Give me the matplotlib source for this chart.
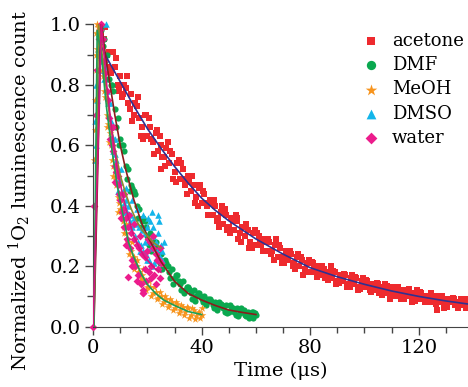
import matplotlib
matplotlib.use('Agg')
import matplotlib.pyplot as plt
from matplotlib.ticker import MultipleLocator

plt.rcParams['font.family'] = 'DejaVu Serif'
plt.rcParams['mathtext.fontset'] = 'dejavuserif'

# ---- scatter data ----
acetone_t = [3, 4, 5, 6, 7, 8, 9, 10, 11, 12, 13, 14, 15, 16, 17, 18, 19, 20, 21, 22, 23, 24, 25,
             26, 27, 28, 29, 30, 31, 32, 33, 34, 35, 36, 37, 38, 39, 40, 41, 42, 43, 44, 45, 46,
             47, 48, 49, 50, 51, 52, 53, 54, 55, 56, 57, 58, 59, 60, 61, 62, 63, 64, 65, 66, 67,
             68, 69, 70, 71, 72, 73, 74, 75, 76, 77, 78, 79, 80, 81, 82, 83, 84, 85, 86, 87, 88,
             89, 90, 91, 92, 93, 94, 95, 96, 97, 98, 99, 100, 101, 102, 103, 104, 105, 106, 107,
             108, 109, 110, 111, 112, 113, 114, 115, 116, 117, 118, 119, 120, 121, 122, 123, 124,
             125, 126, 127, 128, 129, 130, 131, 132, 133, 134, 135, 136, 137, 138,
             3.5, 5.5, 7.5, 9.5, 11.5, 13.5, 15.5, 17.5, 19.5, 21.5, 23.5, 25.5, 27.5, 29.5, 31.5,
             33.5, 35.5, 37.5, 39.5, 41.5, 43.5, 45.5, 47.5, 49.5, 51.5, 53.5, 55.5, 57.5, 59.5,
             61.5, 63.5, 65.5, 67.5, 69.5, 71.5, 73.5, 75.5, 77.5, 79.5, 81.5, 83.5, 85.5, 87.5,
             89.5, 91.5, 93.5, 95.5, 97.5, 99.5, 101.5, 103.5, 105.5, 107.5, 109.5, 111.5, 113.5,
             115.5, 117.5, 119.5, 121.5, 123.5, 125.5, 127.5, 129.5, 131.5, 133.5, 135.5, 137.5,
             4.5, 6.5, 8.5, 10.5, 12.5, 14.5, 16.5, 18.5, 20.5, 22.5, 24.5, 26.5, 28.5, 30.5, 32.5,
             34.5, 36.5, 38.5, 40.5, 42.5, 44.5, 46.5, 48.5, 50.5, 52.5, 54.5, 56.5, 58.5, 60.5,
             62.5, 64.5, 66.5, 68.5, 70.5, 72.5, 74.5, 76.5, 78.5, 80.5, 82.5, 84.5, 86.5, 88.5,
             90.5, 92.5, 94.5, 96.5, 98.5, 100.5, 102.5, 104.5, 106.5, 108.5, 110.5, 112.5, 114.5,
             116.5, 118.5, 120.5, 122.5, 124.5, 126.5, 128.5, 130.5, 132.5, 134.5, 136.5, 137.8,
             53, 126.7, 25]
acetone_y = [0.97, 0.95, 0.90, 0.91, 0.85, 0.86, 0.80, 0.83, 0.77, 0.79, 0.74, 0.77, 0.70, 0.73,
             0.69, 0.66, 0.70, 0.63, 0.66, 0.61, 0.64, 0.58, 0.60, 0.56, 0.59, 0.54, 0.57, 0.51,
             0.54, 0.49, 0.52, 0.47, 0.50, 0.45, 0.47, 0.43, 0.46, 0.41, 0.44, 0.40, 0.42, 0.37,
             0.40, 0.36, 0.38, 0.34, 0.37, 0.33, 0.36, 0.32, 0.35, 0.31, 0.33, 0.30, 0.32, 0.28,
             0.31, 0.27, 0.30, 0.27, 0.29, 0.25, 0.28, 0.25, 0.27, 0.23, 0.26, 0.23, 0.25, 0.22,
             0.24, 0.21, 0.23, 0.20, 0.22, 0.19, 0.21, 0.18, 0.21, 0.18, 0.20, 0.17, 0.19, 0.17,
             0.18, 0.16, 0.18, 0.15, 0.17, 0.15, 0.17, 0.14, 0.16, 0.14, 0.16, 0.13, 0.15, 0.13,
             0.15, 0.12, 0.14, 0.12, 0.14, 0.12, 0.13, 0.11, 0.13, 0.11, 0.13, 0.10, 0.12, 0.10,
             0.12, 0.10, 0.11, 0.09, 0.11, 0.09, 0.11, 0.09, 0.10, 0.08, 0.10, 0.08, 0.10, 0.08,
             0.09, 0.07, 0.09, 0.08, 0.09, 0.07, 0.08, 0.07, 0.09, 0.07,
             0.99, 0.86, 0.91, 0.78, 0.80, 0.72, 0.74, 0.63, 0.70, 0.62, 0.65, 0.56, 0.61, 0.49,
             0.55, 0.49, 0.48, 0.41, 0.47, 0.41, 0.41, 0.35, 0.40, 0.32, 0.35, 0.29, 0.33, 0.26,
             0.32, 0.28, 0.28, 0.24, 0.29, 0.21, 0.24, 0.20, 0.24, 0.17, 0.22, 0.19, 0.19, 0.16,
             0.20, 0.14, 0.17, 0.13, 0.17, 0.12, 0.16, 0.14, 0.13, 0.11, 0.14, 0.09, 0.12, 0.09,
             0.12, 0.08, 0.12, 0.10, 0.09, 0.08, 0.10, 0.06, 0.09, 0.07, 0.09, 0.06,
             0.99, 0.84, 0.89, 0.76, 0.83, 0.68, 0.76, 0.62, 0.69, 0.57, 0.63, 0.53, 0.58, 0.48,
             0.54, 0.44, 0.50, 0.40, 0.45, 0.37, 0.42, 0.33, 0.39, 0.31, 0.37, 0.28, 0.34, 0.26,
             0.31, 0.25, 0.29, 0.22, 0.27, 0.21, 0.25, 0.19, 0.23, 0.18, 0.215, 0.165, 0.20, 0.155,
             0.185, 0.145, 0.175, 0.13, 0.165, 0.125, 0.155, 0.115, 0.145, 0.105, 0.135, 0.10,
             0.13, 0.09, 0.125, 0.085, 0.115, 0.08, 0.11, 0.075, 0.10, 0.065, 0.095, 0.06, 0.09,
             0.065,
             0.36, 0.055, 0.52]

dmf_t = [2, 3, 4, 5, 6, 7, 8, 9, 10, 11, 12, 13, 14, 15, 16, 17, 18, 19, 20, 21, 22, 23, 24, 25,
         26, 27, 28, 29, 30, 31, 32, 33, 34, 35, 36, 37, 38, 39, 40, 41, 42, 43, 44, 45, 46, 47,
         48, 49, 50, 51, 52, 53, 54, 55, 56, 57, 58, 59, 60,
         2.5, 4.5, 6.5, 8.5, 10.5, 12.5, 14.5, 16.5, 18.5, 20.5, 22.5, 24.5, 26.5, 28.5, 30.5,
         32.5, 34.5, 36.5, 38.5, 40.5, 42.5, 44.5, 46.5, 48.5, 50.5, 52.5, 54.5, 56.5, 58.5,
         3.5, 5.5, 7.5, 9.5, 11.5, 13.5, 15.5, 17.5, 19.5, 21.5, 23.5, 25.5, 27.5, 29.5, 31.5,
         33.5, 35.5, 37.5, 39.5, 41.5, 43.5, 45.5, 47.5, 49.5, 51.5, 53.5, 55.5, 57.5, 59.5, 59]
dmf_y = [0.96, 0.98, 0.95, 0.90, 0.82, 0.80, 0.72, 0.69, 0.62, 0.60, 0.53, 0.52, 0.47, 0.45, 0.40,
         0.39, 0.35, 0.35, 0.30, 0.31, 0.27, 0.28, 0.24, 0.24, 0.21, 0.21, 0.18, 0.19, 0.16, 0.17,
         0.14, 0.15, 0.12, 0.13, 0.11, 0.12, 0.10, 0.11, 0.09, 0.10, 0.08, 0.09, 0.07, 0.08, 0.065,
         0.075, 0.06, 0.07, 0.05, 0.065, 0.05, 0.06, 0.045, 0.055, 0.04, 0.05, 0.035, 0.05, 0.04,
         0.99, 0.88, 0.80, 0.66, 0.60, 0.49, 0.46, 0.36, 0.36, 0.27, 0.28, 0.21, 0.22, 0.16, 0.17,
         0.12, 0.13, 0.09, 0.11, 0.08, 0.09, 0.06, 0.08, 0.05, 0.07, 0.04, 0.06, 0.035, 0.05,
         0.93, 0.82, 0.78, 0.60, 0.58, 0.45, 0.44, 0.33, 0.33, 0.25, 0.26, 0.19, 0.20, 0.14, 0.15,
         0.11, 0.125, 0.085, 0.10, 0.07, 0.085, 0.055, 0.07, 0.045, 0.06, 0.035, 0.055, 0.03,
         0.045, 0.03]

meoh_t = [0.5, 0.6, 0.8, 0.9, 1.0, 1.2, 1.3, 1.5, 1.8, 2, 2.2, 2.5, 2.8, 3, 3.2, 3.5, 4, 4.5, 5,
          5.5, 6, 6.5, 7, 7.5, 8, 8.5, 9, 9.5, 10, 10.5, 11, 11.5, 12, 12.5, 13, 13.5, 14, 14.5,
          15, 15.5, 16, 16.5, 17, 17.5, 18, 18.5, 19, 20, 21, 22, 23, 24, 25, 26, 27, 28, 29, 30,
          31, 32, 33, 34, 35, 36, 37, 38, 39, 40,
          5.2, 6.2, 7.2, 8.2, 9.2, 10.2, 11.2, 12.2, 13.2, 14.2, 15.2, 16.2, 17.2, 18.2, 19.5,
          20.5, 21.5, 22.5, 23.5, 24.5, 25.5, 26.5, 27.5, 28.5, 29.5, 30.5, 31.5, 32.5, 33.5,
          34.5, 35.5, 36.5, 37.5, 38.5, 39.5, 40]
meoh_y = [0.55, 0.65, 0.75, 0.85, 0.90, 0.97, 0.92, 1.0, 0.99, 0.95, 0.90, 0.92, 0.93, 0.88, 0.85,
          0.83, 0.78, 0.76, 0.70, 0.67, 0.61, 0.60, 0.55, 0.53, 0.49, 0.47, 0.43, 0.41, 0.39, 0.36,
          0.35, 0.33, 0.31, 0.29, 0.28, 0.26, 0.25, 0.23, 0.23, 0.21, 0.20, 0.18, 0.18, 0.16, 0.17,
          0.15, 0.15, 0.13, 0.13, 0.11, 0.115, 0.095, 0.10, 0.08, 0.09, 0.07, 0.08, 0.06, 0.075,
          0.055, 0.065, 0.05, 0.06, 0.04, 0.055, 0.035, 0.05, 0.04,
          0.66, 0.64, 0.50, 0.52, 0.38, 0.42, 0.31, 0.34, 0.24, 0.28, 0.19, 0.22, 0.15, 0.19, 0.12,
          0.15, 0.10, 0.13, 0.09, 0.115, 0.075, 0.10, 0.065, 0.09, 0.055, 0.08, 0.045, 0.07, 0.04,
          0.065, 0.03, 0.06, 0.025, 0.045, 0.03, 0.06]

dmso_t = [0.6, 0.8, 1.0, 1.2, 1.5, 1.8, 2, 2.5, 3, 3.5, 4, 4.5, 4.8, 5, 5.5, 6, 6.5, 7, 7.5, 8,
          8.5, 9, 9.5, 10, 10.5, 11, 11.5, 12, 12.5, 13, 13.5, 14, 14.5, 15, 15.5, 16, 16.5, 17,
          17.5, 18, 18.5, 19, 19.5, 20, 20.5, 21, 21.5, 22, 22.5, 23, 23.5, 24, 24.5, 25, 25.5, 26,
          9.2, 10.2, 11.2, 12.2, 13.2, 14.2, 15.2, 16.2, 17.2, 18.2, 19.2, 20.2, 21.2, 22.2, 23.2,
          24.2, 25.2, 23.8, 21.8, 19.8, 6.2, 7.2, 8.2]
dmso_y = [0.55, 0.68, 0.60, 0.80, 0.75, 0.92, 0.85, 0.90, 0.95, 0.88, 0.82, 0.86, 1.0, 0.78, 0.74,
          0.70, 0.68, 0.63, 0.62, 0.57, 0.55, 0.52, 0.49, 0.48, 0.44, 0.45, 0.41, 0.42, 0.38, 0.40,
          0.35, 0.37, 0.33, 0.36, 0.30, 0.34, 0.28, 0.33, 0.27, 0.32, 0.25, 0.31, 0.24, 0.33, 0.22,
          0.35, 0.26, 0.30, 0.21, 0.28, 0.25, 0.31, 0.23, 0.27, 0.25, 0.28,
          0.45, 0.52, 0.38, 0.46, 0.34, 0.42, 0.29, 0.39, 0.25, 0.37, 0.28, 0.36, 0.20, 0.33, 0.22,
          0.35, 0.22, 0.37, 0.38, 0.22, 0.74, 0.58, 0.62]

water_t = [0, 0.5, 1, 1.5, 2, 2.5, 3, 3.5, 4, 4.5, 5, 5.5, 6, 6.5, 7, 7.5, 8, 8.5, 9, 9.5, 10,
           10.5, 11, 11.5, 12, 12.5, 13, 13.5, 14, 14.5, 15, 15.5, 16, 16.5, 17, 17.5, 18, 18.5,
           19, 19.5, 20, 20.5, 21, 21.5, 22, 22.5, 23, 23.5, 24, 24.5, 25,
           6.2, 7.2, 8.2, 9.2, 10.2, 11.2, 12.2, 13.2, 14.2, 15.2, 16.2, 17.2, 18.2, 19.2, 20.2,
           21.2, 22.2, 23.2, 24.2, 24.8, 12.9, 18.4]
water_y = [0.0, 0.40, 0.70, 0.85, 0.95, 0.98, 1.0, 0.95, 0.88, 0.84, 0.78, 0.75, 0.69, 0.66, 0.60,
           0.58, 0.53, 0.51, 0.47, 0.44, 0.42, 0.38, 0.39, 0.33, 0.36, 0.29, 0.33, 0.26, 0.31, 0.22,
           0.29, 0.20, 0.27, 0.17, 0.26, 0.14, 0.24, 0.12, 0.23, 0.15, 0.25, 0.18, 0.28, 0.20, 0.26,
           0.17, 0.24, 0.22, 0.19, 0.26, 0.21,
           0.62, 0.66, 0.48, 0.50, 0.36, 0.44, 0.27, 0.37, 0.20, 0.34, 0.15, 0.30, 0.11, 0.19, 0.29,
           0.16, 0.30, 0.14, 0.22, 0.16, 0.165, 0.11]

# ---- fitted curves ----
acetone_fit_t = [0.2, 2.5, 5, 10, 15, 20, 25, 30, 35, 40, 45, 50, 60, 70, 80, 90, 100, 110, 120, 130, 138]
acetone_fit_y = [0.0, 0.935, 0.89, 0.81, 0.73, 0.655, 0.59, 0.53, 0.475, 0.425, 0.385, 0.35, 0.29,
                 0.24, 0.195, 0.165, 0.14, 0.118, 0.10, 0.085, 0.075]
dmf_fit_t = [0.3, 3, 5, 8, 10, 12, 15, 18, 20, 25, 30, 35, 40, 45, 50, 55, 60]
dmf_fit_y = [0.0, 1.0, 0.87, 0.70, 0.60, 0.52, 0.42, 0.34, 0.30, 0.215, 0.15, 0.11, 0.088, 0.07,
             0.055, 0.047, 0.04]
meoh_fit_t = [0.3, 1.5, 3, 5, 7, 9, 11, 13, 15, 18, 20, 23, 26, 30, 35, 40]
meoh_fit_y = [0.0, 0.98, 0.90, 0.72, 0.58, 0.46, 0.37, 0.28, 0.23, 0.17, 0.14, 0.11, 0.088, 0.07,
              0.05, 0.04]
dmso_fit_t = [0.3, 2, 4, 6, 8, 10, 12, 14, 16, 18, 20, 22, 25]
dmso_fit_y = [0.0, 1.0, 0.85, 0.70, 0.59, 0.50, 0.44, 0.39, 0.35, 0.32, 0.30, 0.28, 0.26]
water_fit_t = [0.0, 3, 5, 7, 9, 11, 13, 15, 17, 19, 21, 23, 25]
water_fit_y = [0.0, 1.0, 0.80, 0.64, 0.52, 0.43, 0.36, 0.30, 0.26, 0.23, 0.21, 0.19, 0.18]

fig = plt.figure(figsize=(4.68, 3.87), dpi=100)
ax = fig.add_axes([0.199, 0.156, 0.8, 0.781])

ax.scatter(acetone_t, acetone_y, marker='s', s=16, color='#ee2a2e', lw=0, label='acetone', clip_on=False, zorder=2)
ax.scatter(dmf_t, dmf_y, marker='o', s=20, color='#0aa84f', lw=0, label='DMF', clip_on=False, zorder=2)
ax.scatter(dmso_t, dmso_y, marker='^', s=22, color='#13b5ea', lw=0, label='DMSO', clip_on=False, zorder=2)
ax.scatter(meoh_t, meoh_y, marker='*', s=34, color='#f7941d', lw=0, label='MeOH', clip_on=False, zorder=2)
ax.scatter(water_t, water_y, marker='D', s=16, color='#ec1c8c', lw=0, label='water', clip_on=False, zorder=2)

ax.plot(acetone_fit_t, acetone_fit_y, color='#2e3192', lw=1.2, zorder=3)
ax.plot(dmf_fit_t, dmf_fit_y, color='#8b1c1c', lw=1.2, zorder=3)
ax.plot(dmso_fit_t, dmso_fit_y, color='#8f8a2c', lw=1.2, zorder=3)
ax.plot(meoh_fit_t, meoh_fit_y, color='#1c9f55', lw=1.2, zorder=3)
ax.plot(water_fit_t, water_fit_y, color='#d4157f', lw=1.2, zorder=3)

ax.set_xlim(0, 138)
ax.set_ylim(0, 1.0)
ax.xaxis.set_major_locator(MultipleLocator(40))
ax.xaxis.set_minor_locator(MultipleLocator(10))
ax.yaxis.set_major_locator(MultipleLocator(0.2))
ax.yaxis.set_minor_locator(MultipleLocator(0.1))
ax.yaxis.set_major_formatter(plt.FormatStrFormatter('%.1f'))
ax.tick_params(which='both', direction='out', labelsize=14, width=1, color='#444444')
ax.tick_params(which='major', length=6, pad=3)
ax.tick_params(which='minor', length=4)
for s in ['top', 'right']:
    ax.spines[s].set_visible(False)
ax.spines['left'].set_color('#444444')
ax.spines['bottom'].set_color('#444444')

ax.set_xlabel('Time (μs)', fontsize=14, labelpad=3)
ax.set_ylabel('Normalized $^{1}$O$_{2}$ luminescence count', fontsize=14)
ax.yaxis.set_label_coords(-0.16, 0.45)

handles, labels = ax.get_legend_handles_labels()
order = [0, 1, 3, 2, 4]
ax.legend([handles[i] for i in order], [labels[i] for i in order], loc='upper right',
          bbox_to_anchor=(1.01, 1.0), frameon=False, fontsize=13, handletextpad=0.2,
          labelspacing=0.35, markerscale=1.5, borderaxespad=0)

fig.savefig('out.png', dpi=100)
